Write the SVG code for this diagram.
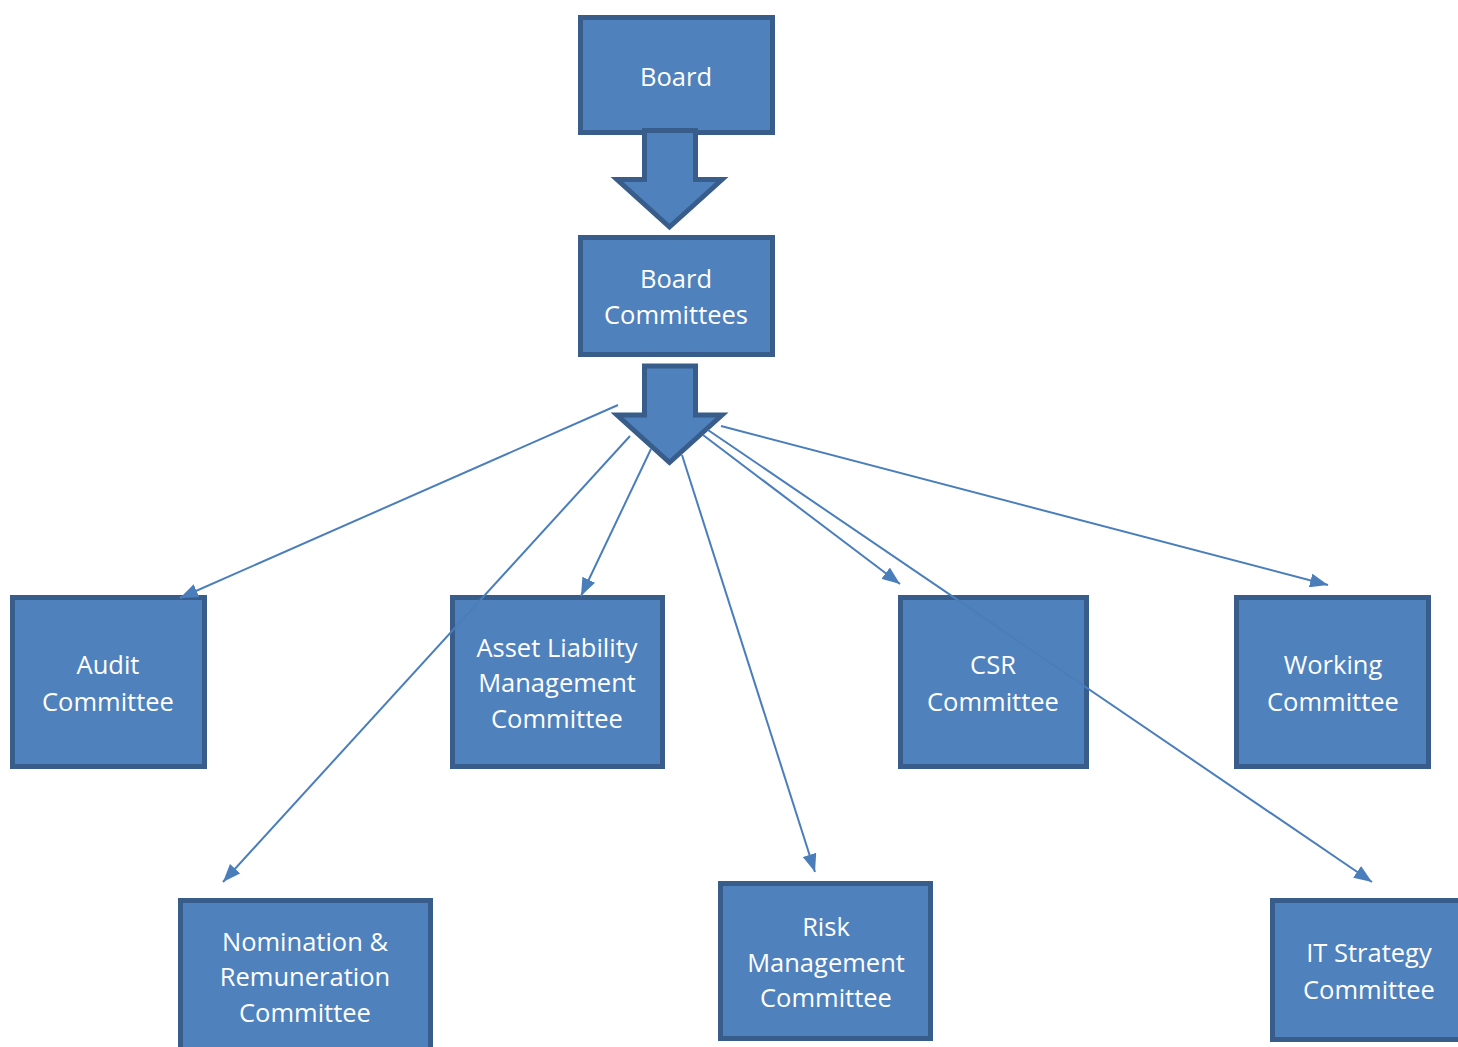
<svg xmlns="http://www.w3.org/2000/svg" width="1458" height="1047" viewBox="0 0 1458 1047">
<style>
.box{fill:#4f81bd;stroke:#385d8a;stroke-width:5}
.blk{fill:#4f81bd;stroke:#385d8a;stroke-width:5;stroke-linejoin:miter}
.t{fill:#ffffff;font-family:"Open Sans","Noto Sans","Liberation Sans",sans-serif;font-size:25.5px;text-anchor:middle}
.c{stroke:#4a7ebb;stroke-width:2;fill:none;marker-end:url(#ah)}
</style>
<defs>
<marker id="ah" markerUnits="userSpaceOnUse" markerWidth="20" markerHeight="14" refX="18" refY="7" orient="auto" viewBox="0 0 20 14">
<path d="M0,0 L18,7 L0,14 Z" fill="#4a7ebb"/>
</marker>
</defs>
<rect width="1458" height="1047" fill="#ffffff"/>
<g id="board"><rect class="box" x="580.5" y="17.5" width="192" height="115"/><text class="t" x="676" y="86">Board</text></g>
<g id="arrow1"><polygon class="blk" points="644.5,130.5 695.5,130.5 695.5,179.5 722,179.5 669.5,227 617,179.5 644.5,179.5"/></g>
<g id="board-committees"><rect class="box" x="580.5" y="237.5" width="192" height="117"/><text class="t" x="676" y="288">Board</text><text class="t" x="676" y="324">Committees</text></g>
<g id="arrow2"><polygon class="blk" points="644.5,366 695.5,366 695.5,415 722,415 669.5,462.5 617,415 644.5,415"/></g>
<g id="audit"><rect class="box" x="12.5" y="597.5" width="192" height="169"/><text class="t" x="108" y="674">Audit</text><text class="t" x="108" y="711">Committee</text></g>
<g id="alm"><rect class="box" x="452.5" y="597.5" width="210" height="169"/><text class="t" x="557" y="657">Asset Liability</text><text class="t" x="557" y="692">Management</text><text class="t" x="557" y="728">Committee</text></g>
<g id="csr"><rect class="box" x="900.5" y="597.5" width="186" height="169"/><text class="t" x="993" y="674">CSR</text><text class="t" x="993" y="711">Committee</text></g>
<g id="working"><rect class="box" x="1236.5" y="597.5" width="192" height="169"/><text class="t" x="1333" y="674">Working</text><text class="t" x="1333" y="711">Committee</text></g>
<g id="nomination"><rect class="box" x="180.5" y="900.5" width="250" height="160"/><text class="t" x="305" y="951">Nomination &amp;</text><text class="t" x="305" y="986">Remuneration</text><text class="t" x="305" y="1022">Committee</text></g>
<g id="risk"><rect class="box" x="720.5" y="883.5" width="210" height="155"/><text class="t" x="826" y="936">Risk</text><text class="t" x="826" y="972">Management</text><text class="t" x="826" y="1007">Committee</text></g>
<g id="it"><rect class="box" x="1272.5" y="900.5" width="200" height="139"/><text class="t" x="1369" y="962">IT Strategy</text><text class="t" x="1369" y="999">Committee</text></g>
<g id="connectors">
<line class="c" x1="618" y1="405" x2="180" y2="598"/>
<line class="c" x1="630" y1="436" x2="223" y2="882"/>
<line class="c" x1="651" y1="449" x2="581" y2="596"/>
<line class="c" x1="682" y1="455" x2="815" y2="872"/>
<line class="c" x1="703" y1="435" x2="900" y2="584"/>
<line class="c" x1="708" y1="430" x2="1372" y2="882"/>
<line class="c" x1="721" y1="426" x2="1328" y2="585"/>
</g>
</svg>
